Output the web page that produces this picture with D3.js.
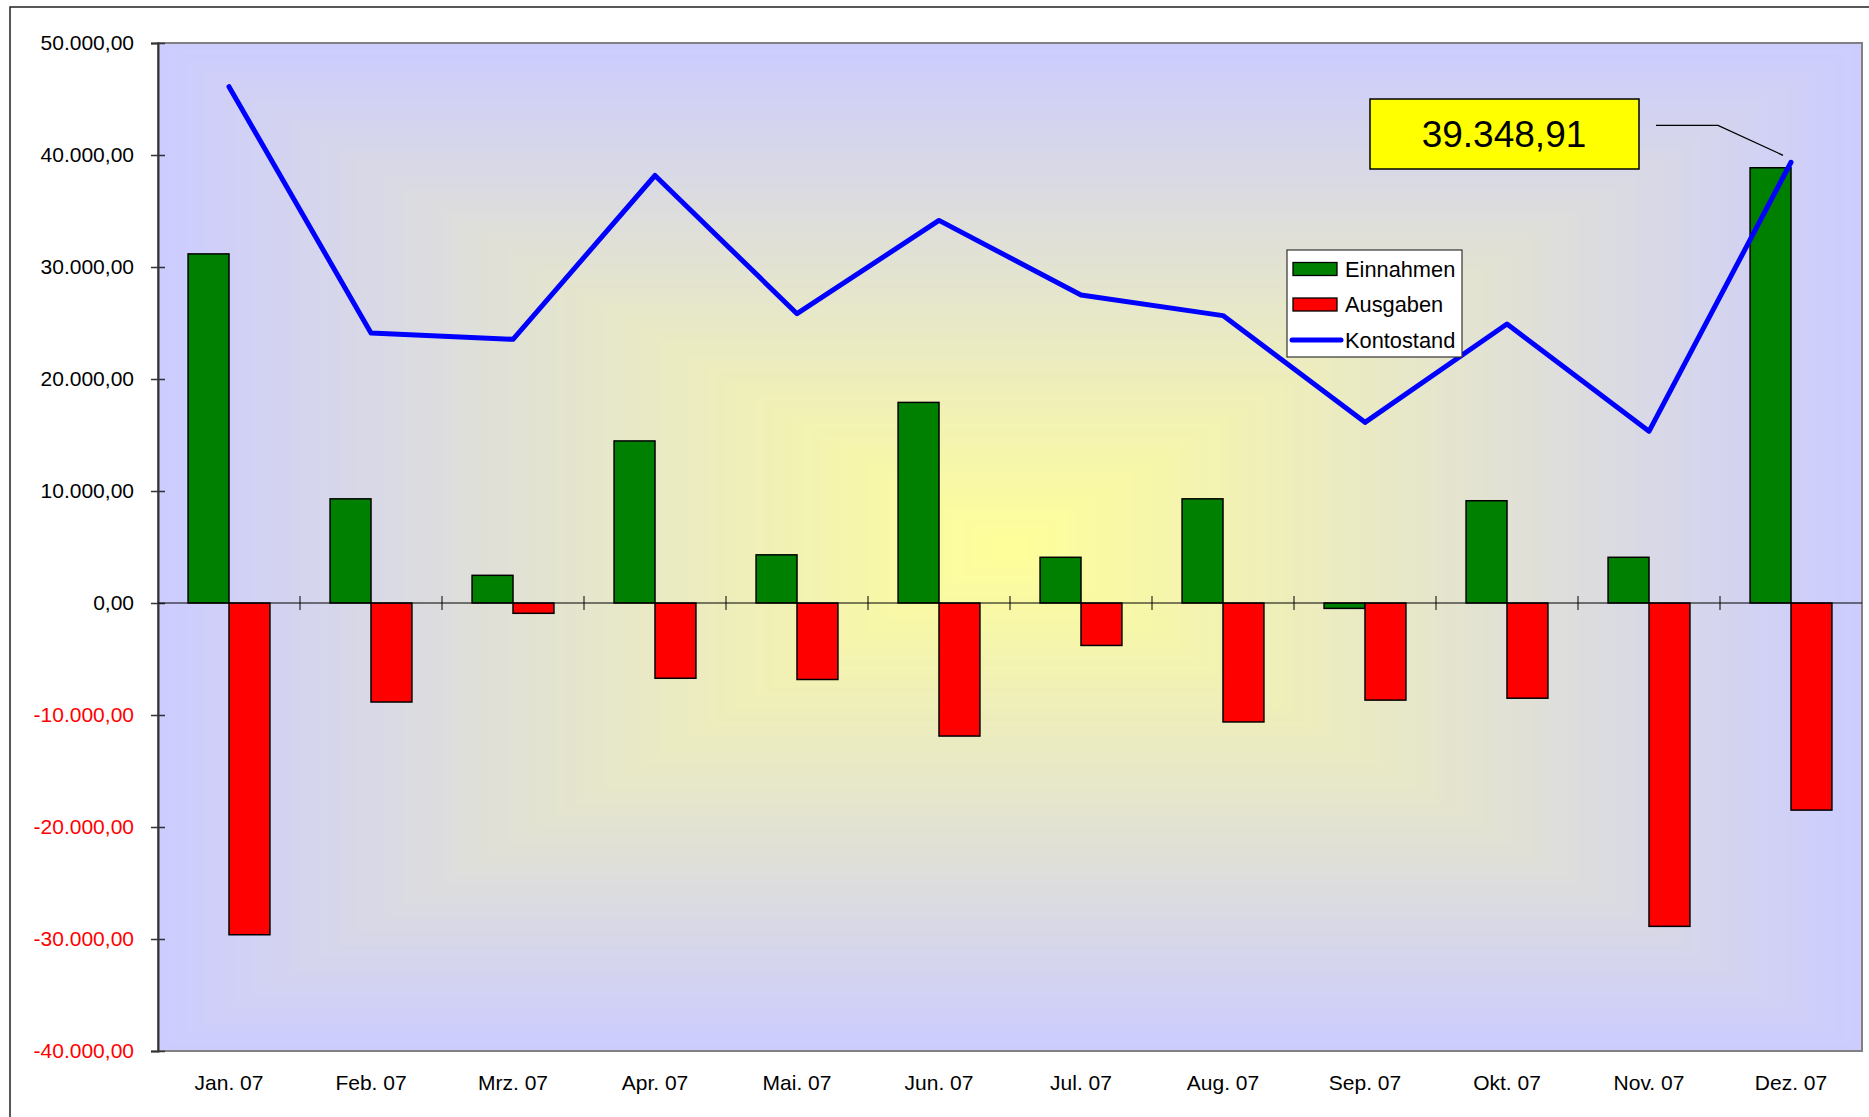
<!DOCTYPE html>
<html>
<head>
<meta charset="utf-8">
<script src="https://cdn.jsdelivr.net/npm/d3@7"></script>
<style>
  body { margin: 0; background: #fff; }
  svg { display: block; font-family: "Liberation Sans", Arial, sans-serif; }
</style>
</head>
<body>
<svg id="chart" width="1869" height="1117"></svg>
<script>
// --- data ------------------------------------------------------------------
const months = ["Jan. 07", "Feb. 07", "Mrz. 07", "Apr. 07", "Mai. 07", "Jun. 07",
                "Jul. 07", "Aug. 07", "Sep. 07", "Okt. 07", "Nov. 07", "Dez. 07"];
const einnahmen  = [31170, 9300, 2470, 14470, 4300, 17910, 4080, 9300, -480, 9130, 4080, 38860];
const ausgaben   = [-29620, -8840, -920, -6720, -6830, -11880, -3790, -10620, -8670, -8500, -28870, -18490];
const kontostand = [46100, 24110, 23540, 38170, 25830, 34160, 27500, 25660, 16130, 24910, 15330, 39348.91];
const yTicks = [50000, 40000, 30000, 20000, 10000, 0, -10000, -20000, -30000, -40000];
const seriesNames = ["Einnahmen", "Ausgaben", "Kontostand"];
const seriesColors = ["#008000", "#ff0000", "#0000ff"];

// --- layout ------------------------------------------------------------------
const W = 1869, H = 1117;
const plot = { left: 158, top: 43, right: 1862, bottom: 1051 };

const de = d3.formatLocale({ decimal: ",", thousands: ".", grouping: [3], currency: ["", " €"], minus: "-" });
const fmt = de.format(",.2f");

const svg = d3.select("#chart");

const x = d3.scaleBand().domain(months).range([plot.left, plot.right]).padding(0);
const xs = d3.scaleBand().domain(["Einnahmen", "Ausgaben"]).range([0, x.bandwidth()])
  .paddingInner(0).paddingOuter(0.735);
const y = d3.scaleLinear().domain([-40000, 50000]).range([plot.bottom, plot.top]);

// outer chart frame (only top + left visible in the picture)
svg.append("path")
  .attr("d", `M10,${H} L10,7 L${W},7`)
  .attr("fill", "none").attr("stroke", "#222").attr("stroke-width", 1.5);

// plot background: rectangular "from centre" gradient, lavender -> yellow
const bg = svg.append("g").attr("class", "bg");
const cx = (plot.left + plot.right) / 2, cy = (plot.top + plot.bottom) / 2;
const hw = (plot.right - plot.left) / 2, hh = (plot.bottom - plot.top) / 2;
const interp = d3.interpolateRgb("#ccccff", "#ffff99");
const steps = d3.range(0, 1, 1 / 90);
bg.selectAll("rect").data(steps).join("rect")
  .attr("x", (t) => cx - hw * (1 - t))
  .attr("y", (t) => cy - hh * (1 - t))
  .attr("width", (t) => 2 * hw * (1 - t))
  .attr("height", (t) => 2 * hh * (1 - t))
  .attr("fill", (t) => interp(t))
  .attr("shape-rendering", "crispEdges");

svg.append("rect")
  .attr("x", plot.left).attr("y", plot.top)
  .attr("width", plot.right - plot.left).attr("height", plot.bottom - plot.top)
  .attr("fill", "none").attr("stroke", "#808080").attr("stroke-width", 2);

// y axis with cross ticks
const yAxis = svg.append("g")
  .attr("transform", `translate(${plot.left},0)`)
  .call(d3.axisLeft(y).tickValues(yTicks).tickSize(7).tickPadding(0).tickFormat(fmt));
yAxis.select(".domain").attr("stroke", "#333").attr("stroke-width", 2);
yAxis.selectAll(".tick line").attr("x1", -7).attr("x2", 7).attr("stroke", "#333").attr("stroke-width", 1.5);
yAxis.selectAll(".tick text")
  .attr("x", -24)
  .attr("font-size", 21)
  .attr("font-family", "Liberation Sans, Arial, sans-serif")
  .attr("fill", (d) => d < 0 ? "#ff0000" : "#000");

// bars
const bars = svg.append("g");
const barData = [];
months.forEach((m, i) => {
  barData.push({ m, s: "Einnahmen", v: einnahmen[i], c: seriesColors[0] });
  barData.push({ m, s: "Ausgaben", v: ausgaben[i], c: seriesColors[1] });
});
bars.selectAll("rect").data(barData).join("rect")
  .attr("x", (d) => x(d.m) + xs(d.s))
  .attr("y", (d) => y(Math.max(0, d.v)))
  .attr("width", xs.bandwidth())
  .attr("height", (d) => Math.abs(y(d.v) - y(0)))
  .attr("fill", (d) => d.c)
  .attr("stroke", "#000").attr("stroke-width", 1.5);

// zero line + category ticks
const xAxis = svg.append("g")
  .attr("transform", `translate(0,${y(0)})`);
xAxis.append("line")
  .attr("x1", plot.left).attr("x2", plot.right)
  .attr("stroke", "#000").attr("stroke-width", 1.2);
xAxis.selectAll("line.tk").data(months.slice(1)).join("line")
  .attr("class", "tk")
  .attr("x1", (d) => x(d)).attr("x2", (d) => x(d))
  .attr("y1", -7).attr("y2", 7)
  .attr("stroke", "#000").attr("stroke-width", 1);

// month labels below the plot
svg.append("g").selectAll("text").data(months).join("text")
  .attr("x", (d) => x(d) + x.bandwidth() / 2)
  .attr("y", 1090)
  .attr("text-anchor", "middle")
  .attr("font-size", 21)
  .attr("fill", "#000")
  .text((d) => d);

// Kontostand line
const line = d3.line()
  .x((d, i) => x(months[i]) + x.bandwidth() / 2)
  .y((d) => y(d));
svg.append("path")
  .datum(kontostand)
  .attr("d", line)
  .attr("fill", "none")
  .attr("stroke", seriesColors[2])
  .attr("stroke-width", 5)
  .attr("stroke-linejoin", "round")
  .attr("stroke-linecap", "round");

// data label for the last balance value
const last = kontostand.length - 1;
const px = x(months[last]) + x.bandwidth() / 2, py = y(kontostand[last]);
const callout = svg.append("g");
callout.append("path")
  .attr("d", `M${px - 135},${py - 37} L${px - 73},${py - 37} L${px - 8},${py - 7}`)
  .attr("fill", "none").attr("stroke", "#000").attr("stroke-width", 1.3);
callout.append("rect")
  .attr("x", 1370).attr("y", 99).attr("width", 269).attr("height", 70)
  .attr("fill", "#ffff00").attr("stroke", "#000").attr("stroke-width", 1.5);
callout.append("text")
  .attr("x", 1504).attr("y", 147)
  .attr("text-anchor", "middle")
  .attr("font-size", 37)
  .attr("fill", "#000")
  .text(fmt(kontostand[last]));

// legend
const lg = svg.append("g").attr("transform", "translate(1287,250)");
lg.append("rect")
  .attr("width", 175).attr("height", 107)
  .attr("fill", "#fff").attr("stroke", "#333").attr("stroke-width", 1.2);
const items = lg.selectAll("g.item").data(seriesNames).join("g")
  .attr("class", "item")
  .attr("transform", (d, i) => `translate(0,${19 + i * 35.5})`);
items.filter((d, i) => i < 2).append("rect")
  .attr("x", 6).attr("y", -6.5).attr("width", 44).attr("height", 13)
  .attr("fill", (d, i) => seriesColors[i])
  .attr("stroke", "#000").attr("stroke-width", 1.3);
items.filter((d, i) => i === 2).append("line")
  .attr("x1", 5).attr("x2", 54)
  .attr("stroke", seriesColors[2]).attr("stroke-width", 5).attr("stroke-linecap", "round");
items.append("text")
  .attr("x", 58).attr("y", 7.5)
  .attr("font-size", 21.8)
  .attr("fill", "#000")
  .text((d) => d);
</script>
</body>
</html>
